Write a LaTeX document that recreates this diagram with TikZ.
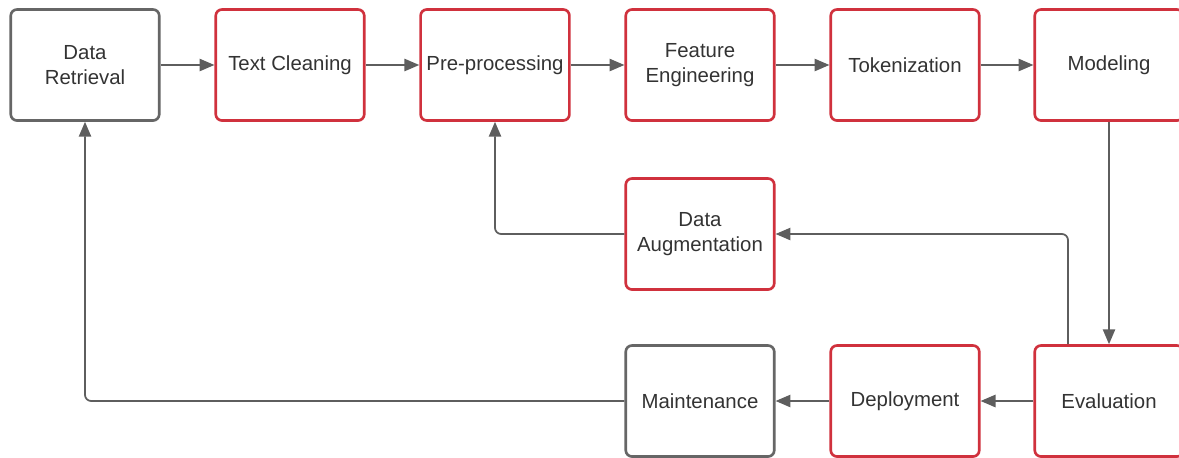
\documentclass[tikz,border=0pt]{standalone}
\usepackage{fontspec}
\setmainfont{Liberation Sans}
\usetikzlibrary{arrows.meta}

\definecolor{boxgray}{HTML}{666666}
\definecolor{boxred}{HTML}{D0313D}
\definecolor{linegray}{HTML}{5E5E5E}
\definecolor{txtgray}{HTML}{333333}

\tikzset{
	stage/.style={draw=boxred, line width=1.5pt, rounded corners=3.5pt, fill=white,
		minimum width=2.97cm, minimum height=2.22cm, align=center, text=txtgray,
		font=\fontsize{11.6}{14}\selectfont},
	plainstage/.style={stage, draw=boxgray},
	flow/.style={draw=linegray, line width=1pt, rounded corners=3.5pt,
		-{Triangle[length=8.5pt,width=7pt]}}
}

\begin{document}
\begin{tikzpicture}[x=0.02cm, y=-0.02cm]
	\useasboundingbox (0,0) rectangle (1179,457);
	% top row
	\node[plainstage] (ret) at (85,65) {Data\\Retrieval};
	\node[stage] (clean) at (290,65) {Text Cleaning};
	\node[stage] (pre) at (495,65) {Pre-processing};
	\node[stage] (feat) at (700,65) {Feature\\Engineering};
	\node[stage] (tok) at (905,65) {Tokenization};
	\node[stage] (model) at (1109,65) {Modeling};
	% middle and bottom row
	\node[stage] (aug) at (700,234) {Data\\Augmentation};
	\node[plainstage] (maint) at (700,401) {Maintenance};
	\node[stage] (deploy) at (905,401) {Deployment};
	\node[stage] (eval) at (1109,401) {Evaluation};

	\draw[flow] (ret) -- (clean);
	\draw[flow] (clean) -- (pre);
	\draw[flow] (pre) -- (feat);
	\draw[flow] (feat) -- (tok);
	\draw[flow] (tok) -- (model);
	\draw[flow] (model) -- (eval);
	\draw[flow] (eval) -- (deploy);
	\draw[flow] (deploy) -- (maint);
	\draw[flow] (eval.north) ++(-41,0) |- (aug.east);
	\draw[flow] (aug.west) -| (pre.south);
	\draw[flow] (maint.west) -| (ret.south);
\end{tikzpicture}
\end{document}
